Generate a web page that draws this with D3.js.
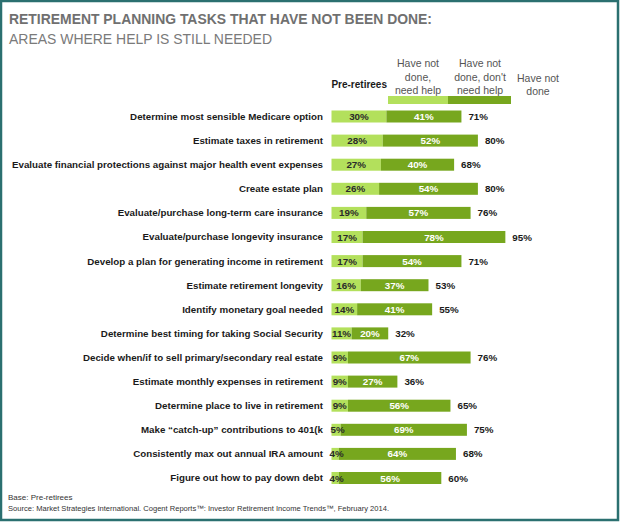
<!DOCTYPE html>
<html><head><meta charset="utf-8">
<script src="https://cdn.jsdelivr.net/npm/d3@7/dist/d3.min.js"></script>
<style>
html,body{margin:0;padding:0;background:#fff;}
svg{display:block;font-family:"Liberation Sans",Arial,sans-serif;}
</style></head>
<body>
<svg id="c" width="620" height="522"></svg>
<script>
const tasks = [
  "Determine most sensible Medicare option",
  "Estimate taxes in retirement",
  "Evaluate financial protections against major health event expenses",
  "Create estate plan",
  "Evaluate/purchase long-term care insurance",
  "Evaluate/purchase longevity insurance",
  "Develop a plan for generating income in retirement",
  "Estimate retirement longevity",
  "Identify monetary goal needed",
  "Determine best timing for taking Social Security",
  "Decide when/if to sell primary/secondary real estate",
  "Estimate monthly expenses in retirement",
  "Determine place to live in retirement",
  "Make \u201ccatch-up\u201d contributions to 401(k",
  "Consistently max out annual IRA amount",
  "Figure out how to pay down debt"
];
const needHelp =     [30, 28, 27, 26, 19, 17, 17, 16, 14, 11, 9, 9, 9, 5, 4, 4];
const dontNeedHelp = [41, 52, 40, 54, 57, 78, 54, 37, 41, 20, 67, 27, 56, 69, 64, 56];
const haveNotDone =  [71, 80, 68, 80, 76, 95, 71, 53, 55, 32, 76, 36, 65, 75, 68, 60];
const legendLabels = [["Have not","done,","need help"],["Have not","done, don't","need help"],["Have not","done"]];

const svg = d3.select("#c");
const LIGHT = "#b3e05c", DARK = "#77a71e";

// border
svg.append("rect").attr("x",1).attr("y",1).attr("width",617).attr("height",519)
  .attr("fill","none").attr("stroke","#2b7070").attr("stroke-width",2.5);

// titles
svg.append("text").attr("x",9).attr("y",24).attr("font-size",14.5).attr("font-weight","bold")
  .attr("fill","#707070").attr("textLength",423).attr("lengthAdjust","spacingAndGlyphs")
  .text("RETIREMENT PLANNING TASKS THAT HAVE NOT BEEN DONE:");
svg.append("text").attr("x",9).attr("y",44).attr("font-size",14.5)
  .attr("fill","#7a7a7a").attr("textLength",263).attr("lengthAdjust","spacingAndGlyphs")
  .text("AREAS WHERE HELP IS STILL NEEDED");

const x = d3.scaleLinear().domain([0,100]).range([331.5, 514.5]);
const y = d3.scalePoint().domain(tasks).range([116.5, 478]);
const bh = 12;

const rows = svg.append("g").selectAll("g").data(tasks).join("g")
  .attr("transform", d => `translate(0,${y(d)})`);

rows.append("text").attr("x",323).attr("y",0).attr("dy","0.35em")
  .attr("text-anchor","end").attr("font-size",9.75).attr("font-weight","bold").attr("fill","#1a1a1a")
  .text(d=>d);

rows.append("rect").attr("x",x(0)).attr("y",-bh/2)
  .attr("width",(d,i)=>x(needHelp[i])-x(0)).attr("height",bh).attr("fill",LIGHT);
rows.append("rect").attr("x",(d,i)=>x(needHelp[i])).attr("y",-bh/2)
  .attr("width",(d,i)=>x(needHelp[i]+dontNeedHelp[i])-x(needHelp[i])).attr("height",bh).attr("fill",DARK);

rows.append("text").attr("x",(d,i)=>x(needHelp[i]/2)+(needHelp[i]<6?1.5:0)).attr("y",0).attr("dy","0.36em")
  .attr("text-anchor","middle").attr("font-size",9.8).attr("font-weight","bold").attr("fill","#2a2a2a")
  .text((d,i)=>needHelp[i]+"%");
rows.append("text").attr("x",(d,i)=>x(needHelp[i]+dontNeedHelp[i]/2)).attr("y",0).attr("dy","0.36em")
  .attr("text-anchor","middle").attr("font-size",9.8).attr("font-weight","bold").attr("fill","#ffffff")
  .text((d,i)=>dontNeedHelp[i]+"%");
rows.append("text").attr("x",(d,i)=>x(needHelp[i]+dontNeedHelp[i])+7).attr("y",0).attr("dy","0.36em")
  .attr("text-anchor","start").attr("font-size",9.8).attr("font-weight","bold").attr("fill","#1a1a1a")
  .text((d,i)=>haveNotDone[i]+"%");

// legend
svg.append("text").attr("x",387).attr("y",88).attr("text-anchor","end")
  .attr("font-size",10).attr("font-weight","bold").attr("fill","#1a1a1a").text("Pre-retirees");
svg.append("rect").attr("x",388).attr("y",96).attr("width",60).attr("height",8).attr("fill",LIGHT);
svg.append("rect").attr("x",448).attr("y",96).attr("width",63).attr("height",8).attr("fill",DARK);
const lcx = [418, 480, 538];
legendLabels.forEach((lines,k)=>{
  const startY = lines.length===3 ? 67 : 81.5;
  lines.forEach((t,j)=>{
    svg.append("text").attr("x",lcx[k]).attr("y",startY+j*13.5).attr("text-anchor","middle")
      .attr("font-size",10.5).attr("fill","#555").text(t);
  });
});

// footer
svg.append("text").attr("x",8).attr("y",500).attr("font-size",8).attr("fill","#333")
  .text("Base: Pre-retirees");
svg.append("text").attr("x",8).attr("y",511).attr("font-size",8).attr("fill","#333")
  .attr("textLength",381).attr("lengthAdjust","spacingAndGlyphs")
  .text("Source: Market Strategies International. Cogent Reports\u2122: Investor Retirement Income Trends\u2122, February 2014.");
</script>
</body></html>
